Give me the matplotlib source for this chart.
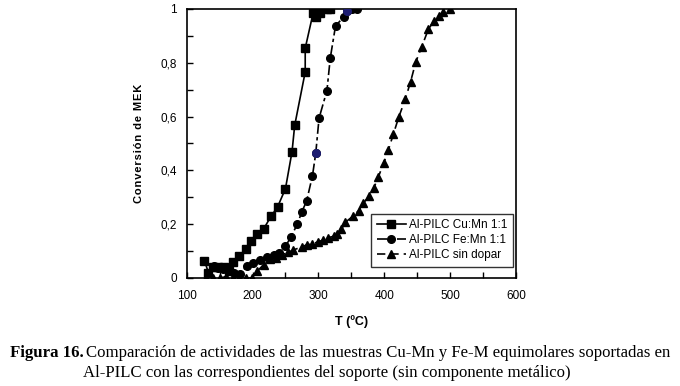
import matplotlib
matplotlib.use('Agg')
import matplotlib.pyplot as plt
from matplotlib.ticker import MultipleLocator, FuncFormatter

# Al-PILC Cu:Mn 1:1
t_cumn = [127, 133, 140, 148, 156, 164, 171, 180, 190, 197, 207, 217, 228, 238,
          250, 260, 264, 280, 280, 292, 297, 302, 313, 318]
x_cumn = [0.065, 0.02, 0.04, 0.04, 0.04, 0.025, 0.06, 0.083, 0.108, 0.136, 0.163,
          0.183, 0.229, 0.264, 0.332, 0.470, 0.567, 0.766, 0.854, 0.985, 0.971,
          0.985, 1.0, 1.0]

# Al-PILC Fe:Mn 1:1
t_femn = [141, 148, 155, 163, 172, 181, 191, 201, 212, 222, 232, 240, 250, 258,
          268, 275, 282, 291, 296, 301, 313, 318, 326, 339, 344, 351, 359]
x_femn = [0.043, 0.037, 0.035, 0.03, 0.02, 0.016, 0.043, 0.056, 0.068, 0.077,
          0.087, 0.093, 0.118, 0.151, 0.2, 0.247, 0.285, 0.38, 0.464, 0.594,
          0.697, 0.817, 0.937, 0.972, 0.994, 0.999, 1.0]
femn_blue = [18, 24]  # two points drawn in dark blue in the original

# Al-PILC sin dopar
t_sd = [130, 140, 150, 160, 170, 180, 190, 199, 207, 217, 227, 236, 245, 254,
        262, 275, 282, 290, 300, 307, 315, 323, 329, 335, 341, 352, 361, 368,
        377, 384, 391, 399, 406, 414, 422, 432, 440, 448, 457, 467, 476, 483,
        489, 500]
x_sd = [0, 0, 0, 0.005, 0, 0, 0, 0, 0.025, 0.05, 0.07, 0.075, 0.087, 0.095,
        0.104, 0.116, 0.123, 0.126, 0.135, 0.141, 0.15, 0.155, 0.162, 0.181,
        0.207, 0.229, 0.25, 0.278, 0.303, 0.334, 0.375, 0.427, 0.474, 0.536,
        0.598, 0.665, 0.73, 0.804, 0.86, 0.925, 0.957, 0.975, 0.988, 1.0]

plt.rcParams['font.family'] = ['Liberation Sans', 'DejaVu Sans']

fig = plt.figure(figsize=(6.8, 3.86), dpi=100)
ax = fig.add_axes([0.2745, 0.2798, 0.4843, 0.6969])

ax.plot(t_cumn, x_cumn, '-', color='black', lw=1.2, marker='s', ms=5.5,
        label='Al-PILC Cu:Mn 1:1')
ax.plot(t_femn, x_femn, color='black', lw=1.2, dashes=(6, 2, 2, 2), marker='o',
        ms=5.5, label='Al-PILC Fe:Mn 1:1')
ax.plot([t_femn[i] for i in femn_blue], [x_femn[i] for i in femn_blue], 'o',
        color='#1c1c70', ms=5.5, zorder=3)
ax.plot(t_sd, x_sd, color='black', lw=1.2, dashes=(5, 3), marker='^', ms=6,
        label='Al-PILC sin dopar')

ax.set_xlim(100, 600)
ax.set_ylim(0, 1)
ax.xaxis.set_major_locator(MultipleLocator(100))
ax.xaxis.set_minor_locator(MultipleLocator(50))
ax.yaxis.set_major_locator(MultipleLocator(0.2))
ax.yaxis.set_minor_locator(MultipleLocator(0.1))
ax.yaxis.set_major_formatter(FuncFormatter(lambda v, p: ('%g' % round(v, 1)).replace('.', ',')))
ax.tick_params(which='both', direction='in', labelsize=8.5, width=1, length=4)
ax.tick_params(axis='x', pad=9)
ax.tick_params(axis='y', pad=7)
for s in ax.spines.values():
    s.set_linewidth(1.2)

ax.set_xlabel('T (ºC)', fontsize=9, fontweight='bold', labelpad=9)
ax.set_ylabel('\u200a'.join('Conversión de MEK'), fontsize=8, fontweight='bold',
              labelpad=12)

leg = ax.legend(loc='lower right', fontsize=8.5, frameon=True, fancybox=False,
                edgecolor='black', handlelength=2.4, borderpad=0.5,
                labelspacing=0.25, handletextpad=0.3, borderaxespad=0,
                bbox_to_anchor=(0.992, 0.04))
leg.get_frame().set_linewidth(1.0)

serif = 'Liberation Serif'
fig.text(10 / 680, 1 - 357 / 386, 'Figura 16.', family=serif, fontweight='bold',
         fontsize=12.1)
fig.text(86 / 680, 1 - 357 / 386,
         'Comparación de actividades de las muestras Cu-Mn y Fe-M equimolares soportadas en',
         family=serif, fontsize=12.1)
fig.text(83 / 680, 1 - 377 / 386,
         'Al-PILC con las correspondientes del soporte (sin componente metálico)',
         family=serif, fontsize=12.1)

fig.savefig('out.png', dpi=100)
